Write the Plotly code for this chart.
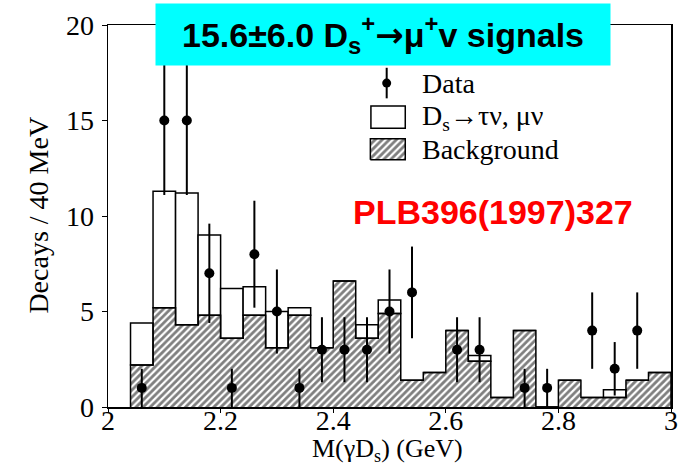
import plotly.graph_objects as go

# ---- data ----
bin_width = 0.04
bin_centers = [2.06, 2.10, 2.14, 2.18, 2.22, 2.26, 2.30, 2.34, 2.38, 2.42, 2.46, 2.50,
               2.54, 2.58, 2.62, 2.66, 2.70, 2.74, 2.78, 2.82, 2.86, 2.90, 2.94, 2.98]
background = [2.2, 5.2, 4.3, 4.8, 3.6, 4.8, 3.1, 4.8, 3.1, 6.6, 3.6, 4.9,
              1.4, 1.8, 4.0, 2.4, 0.5, 4.0, 0.0, 1.4, 0.5, 0.5, 1.4, 1.8]
total = [4.4, 11.3, 11.2, 9.0, 6.2, 6.3, 5.0, 5.2, 3.1, 6.6, 4.3, 5.6,
         1.4, 1.8, 4.0, 2.7, 0.5, 4.0, 0.0, 1.4, 0.5, 0.9, 1.4, 1.8]

data_x = [2.06, 2.10, 2.14, 2.18, 2.22, 2.26, 2.30, 2.34, 2.38, 2.42, 2.46, 2.50,
          2.54, 2.62, 2.66, 2.74, 2.78, 2.86, 2.90, 2.94]
data_y = [1, 15, 15, 7, 1, 8, 5, 1, 3, 3, 3, 5, 6, 3, 3, 1, 1, 4, 2, 4]
data_err = [1.0, 3.9, 3.9, 2.6, 1.0, 2.8, 2.2, 1.0, 1.7, 1.7, 1.7, 2.2,
            2.4, 1.7, 1.7, 1.0, 1.0, 2.0, 1.4, 2.0]

x_ticks = [2.0, 2.2, 2.4, 2.6, 2.8, 3.0]
x_ticktext = ["2", "2.2", "2.4", "2.6", "2.8", "3"]
y_ticks = [0, 5, 10, 15, 20]

signal = [t - b for t, b in zip(total, background)]

# step outline of the background histogram
left_edges = [c - bin_width / 2 for c in bin_centers]
right_end = bin_centers[-1] + bin_width / 2
step_x = [left_edges[0]] + left_edges + [right_end, right_end]
step_y = [0] + background + [background[-1], 0]

SERIF = "Liberation Serif, Times New Roman, serif"
SANS = "Liberation Sans, Arial, sans-serif"
HATCH = dict(shape="/", fgcolor="black", bgcolor="white", size=5, solidity=0.55)

fig = go.Figure()

# hatched background
fig.add_trace(go.Bar(
    x=bin_centers, y=background, width=bin_width,
    marker=dict(color="white", line=dict(width=0), pattern=HATCH),
    hoverinfo="skip"))

# signal boxes stacked on background
fig.add_trace(go.Bar(
    x=bin_centers, y=signal, base=background, width=bin_width,
    marker=dict(color="white", line=dict(color="black", width=1.5)),
    hoverinfo="skip"))

# background outline
fig.add_trace(go.Scatter(
    x=step_x, y=step_y, mode="lines", line=dict(color="black", width=1.5, shape="hv"),
    hoverinfo="skip"))

# data points
fig.add_trace(go.Scatter(
    x=data_x, y=data_y, mode="markers",
    marker=dict(color="black", size=10),
    error_y=dict(type="data", array=data_err, color="black", thickness=2, width=0)))

# ---- legend drawn on an overlay axis spanning the plot area ----
fig.add_trace(go.Scatter(
    x=[0.495], y=[0.848], mode="markers", xaxis="x2", yaxis="y2",
    marker=dict(color="black", size=9),
    error_y=dict(type="constant", value=0.04, color="black", thickness=2, width=0)))
fig.add_trace(go.Scatter(
    x=[0.466, 0.528, 0.528, 0.466, 0.466], y=[0.647, 0.647, 0.702, 0.702, 0.647],
    mode="lines", xaxis="x2", yaxis="y2", fill="toself", fillcolor="white",
    fillpattern=HATCH, line=dict(color="black", width=1.5)))

fig.add_shape(type="rect", xref="paper", yref="paper",
              x0=0.467, x1=0.528, y0=0.730, y1=0.788,
              line=dict(color="black", width=1.5), fillcolor="white")

legend_font = dict(family=SERIF, size=28, color="black")
fig.add_annotation(x=0.555, y=0.848, xref="paper", yref="paper", xanchor="left",
                   yanchor="middle", text="Data", showarrow=False, font=legend_font)
fig.add_annotation(x=0.555, y=0.757, xref="paper", yref="paper", xanchor="left",
                   yanchor="middle", text="D<sub>s</sub>→τν, μν", showarrow=False,
                   font=legend_font)
fig.add_annotation(x=0.555, y=0.673, xref="paper", yref="paper", xanchor="left",
                   yanchor="middle", text="Background", showarrow=False, font=legend_font)

# axis titles
fig.add_annotation(x=0.497, y=-0.113, xref="paper", yref="paper", xanchor="center",
                   yanchor="middle", showarrow=False, text="M(γD<sub>s</sub>) (GeV)",
                   font=dict(family=SERIF, size=26, color="black"))
fig.add_annotation(x=-0.123, y=0.503, xref="paper", yref="paper", xanchor="center",
                   yanchor="middle", showarrow=False, text="Decays / 40 MeV", textangle=-90,
                   font=dict(family=SERIF, size=28, color="black"))

# title box
fig.add_annotation(x=0.488, y=0.975, xref="paper", yref="paper", xanchor="center",
                   yanchor="middle", showarrow=False,
                   text="<b>15.6±6.0 D<sub>s</sub><sup>+</sup>"
                        "<span style='font-family:DejaVu Sans'>→</span>"
                        "μ<sup>+</sup>v signals</b>",
                   font=dict(family=SANS, size=34, color="black"),
                   bgcolor="#00FFFF", width=450, height=57, borderpad=2)

# red reference label
fig.add_annotation(x=0.684, y=0.510, xref="paper", yref="paper", xanchor="center",
                   yanchor="middle", showarrow=False, text="<b>PLB396(1997)327</b>",
                   font=dict(family=SANS, size=34, color="#FF0000"))

fig.update_layout(
    width=679, height=468,
    margin=dict(l=108, r=8, t=25, b=61),
    plot_bgcolor="white", paper_bgcolor="white",
    barmode="overlay", bargap=0, showlegend=False,
    xaxis=dict(range=[2, 3], tickvals=x_ticks, ticktext=x_ticktext,
               tickfont=dict(family=SERIF, size=28, color="black"),
               ticks="outside", ticklen=4, tickcolor="black", ticklabelstandoff=-16,
               showline=True, mirror=True, linecolor="black", linewidth=1.5,
               showgrid=False, zeroline=False, automargin=False),
    yaxis=dict(range=[0, 20], tickvals=y_ticks,
               tickfont=dict(family=SERIF, size=28, color="black"),
               ticks="outside", ticklen=5, tickcolor="black", ticklabelstandoff=2,
               showline=True, mirror=True, linecolor="black", linewidth=1.5,
               showgrid=False, zeroline=False, automargin=False),
    xaxis2=dict(range=[0, 1], overlaying="x", visible=False),
    yaxis2=dict(range=[0, 1], overlaying="y", visible=False),
)

fig.write_html("out.html",
               config={"displayModeBar": False, "staticPlot": True},
               post_script="document.body.style.margin='0px';"
                           "document.body.style.overflow='hidden';")
